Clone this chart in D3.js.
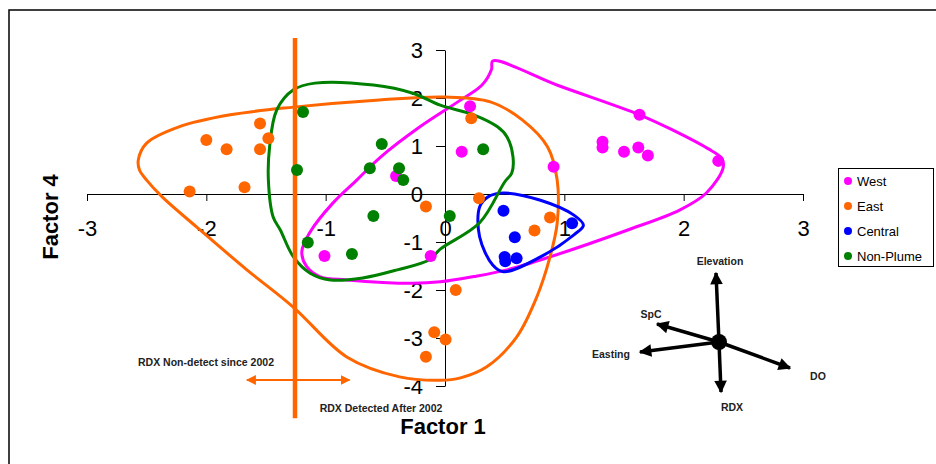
<!DOCTYPE html>
<html>
<head>
<meta charset="utf-8">
<script src="https://cdn.jsdelivr.net/npm/d3@7"></script>
<style>
  body { margin: 0; background: #fff; }
  svg { display: block; font-family: Arial, "Liberation Sans", sans-serif; }
</style>
</head>
<body>
<div id="chart"></div>
<script>
// Factor scores by region (Factor 1, Factor 4)
const west = [
  [-0.41, 0.375], [0.21, 1.83], [0.14, 0.88], [0.91, 0.57], [1.32, 1.09],
  [1.32, 0.97], [1.50, 0.88], [1.62, 0.97], [1.70, 0.80], [1.63, 1.65],
  [2.29, 0.69], [-1.01, -1.29], [-0.12, -1.29]
];
const east = [
  [-2.00, 1.125], [-1.83, 0.93], [-1.55, 1.47], [-1.48, 1.16], [-1.55, 0.93],
  [-2.14, 0.05], [-1.68, 0.14], [-0.16, -0.26], [0.22, 1.58], [0.285, -0.09],
  [0.88, -0.49], [0.75, -0.76], [0.09, -2.0], [0.005, -3.03], [-0.09, -2.88],
  [-0.16, -3.39]
];
const central = [
  [0.49, -0.35], [0.585, -0.90], [0.50, -1.31], [0.505, -1.40], [0.60, -1.34],
  [1.065, -0.61]
];
const nonPlume = [
  [-1.19, 1.71], [-1.24, 0.5], [-0.53, 1.04], [-0.63, 0.535], [-0.385, 0.535],
  [-0.35, 0.29], [-0.60, -0.46], [0.04, -0.46], [0.32, 0.93], [-1.15, -1.01],
  [-0.78, -1.25]
];

// hand drawn outlines around each group (data units)
const westHull = [
  [0.40, 2.77], [0.96, 2.25], [1.63, 1.65], [1.91, 1.33], [2.20, 0.95],
  [2.32, 0.74], [2.33, 0.54], [2.19, 0.02], [1.97, -0.33], [1.52, -0.76],
  [0.88, -1.31], [0.52, -1.58], [0.24, -1.72], [-0.04, -1.83], [-0.27, -1.86],
  [-0.82, -1.79], [-1.05, -1.72], [-1.16, -1.51], [-1.20, -1.20], [-1.13, -0.79],
  [-0.94, -0.19], [-0.74, 0.29], [-0.54, 0.77], [-0.21, 1.40], [0.12, 1.94],
  [0.31, 2.27], [0.39, 2.60]
];
const eastHull = [
  [-2.57, 0.71], [-2.50, 1.06], [-2.23, 1.40], [-1.80, 1.65], [-1.27, 1.81],
  [-0.55, 1.96], [0.0, 2.02], [0.38, 1.92], [0.65, 1.54], [0.86, 0.98],
  [0.94, 0.29], [0.94, -0.61], [0.88, -1.31], [0.77, -2.14], [0.60, -2.98],
  [0.35, -3.60], [0.13, -3.83], [-0.04, -3.88], [-0.38, -3.81], [-0.82, -3.40],
  [-1.27, -2.36], [-1.66, -1.58], [-2.08, -0.69], [-2.37, -0.06], [-2.50, 0.29],
  [-2.56, 0.50]
];
const centralHull = [
  [0.49, 0.02], [0.80, -0.13], [1.08, -0.44], [1.16, -0.65], [1.08, -0.85],
  [0.80, -1.31], [0.49, -1.62], [0.40, -1.48], [0.29, -0.89], [0.29, -0.27],
  [0.36, -0.06]
];
const nonPlumeHull = [
  [-1.09, 2.31], [-0.60, 2.27], [-0.27, 2.10], [-0.04, 1.85], [0.24, 1.65],
  [0.44, 1.40], [0.52, 1.19], [0.57, 0.77], [0.56, 0.44], [0.50, 0.25],
  [0.29, -0.60], [-0.04, -1.15], [-0.13, -1.37], [-0.40, -1.58], [-0.69, -1.75],
  [-0.96, -1.79], [-1.13, -1.65], [-1.27, -1.31], [-1.38, -0.75], [-1.44, -0.48],
  [-1.48, 0.29], [-1.47, 0.98], [-1.41, 1.75], [-1.27, 2.17]
];

// detection boundary and biplot loadings
const detectX = -1.257;
const detectY = [3.25, -4.67];
const detectArrow = [-1.66, -0.80];
const detectArrowY = -3.875;
const biplotCenter = [2.296, -3.083];
const loadings = [
  { name: "Elevation", end: [2.271, -1.646] },
  { name: "SpC", end: [1.777, -2.708] },
  { name: "Easting", end: [1.634, -3.292] },
  { name: "DO", end: [2.891, -3.625] },
  { name: "RDX", end: [2.313, -4.125] }
];

const xTicks = [-3, -2, -1, 0, 1, 2, 3];
const yTicks = [-4, -3, -2, -1, 0, 1, 2, 3];

const series = [
  { name: "West", pts: west, hull: westHull, color: "#FF00FF" },
  { name: "East", pts: east, hull: eastHull, color: "#FF6600" },
  { name: "Central", pts: central, hull: centralHull, color: "#0000FF" },
  { name: "Non-Plume", pts: nonPlume, hull: nonPlumeHull, color: "#008000" }
];

const width = 936, height = 464;
const svg = d3.select("#chart").append("svg")
  .attr("width", width)
  .attr("height", height);

const x = d3.scaleLinear().domain([-3, 3]).range([87, 803]);
const y = d3.scaleLinear().domain([-4, 3]).range([386, 50]);

// outer frame
svg.append("rect")
  .attr("x", 9).attr("y", 10)
  .attr("width", width + 20).attr("height", height + 20)
  .attr("fill", "none").attr("stroke", "#000").attr("stroke-width", 1.5);

// axes through the origin
const xAxis = svg.append("g")
  .attr("transform", `translate(0,${y(0)})`)
  .call(d3.axisBottom(x).tickValues(xTicks).tickFormat(d3.format("d"))
    .tickSize(7).tickPadding(19).tickSizeOuter(0));
const yAxis = svg.append("g")
  .attr("transform", `translate(${x(0)},0)`)
  .call(d3.axisLeft(y).tickValues(yTicks).tickFormat(d3.format("d"))
    .tickSize(9).tickPadding(13).tickSizeOuter(0));
[xAxis, yAxis].forEach(g => {
  g.select(".domain").attr("stroke", "#000");
  g.selectAll("line").attr("stroke", "#000");
  g.selectAll("text").attr("font-size", 22).attr("fill", "#000")
    .attr("font-family", "Arial, 'Liberation Sans', sans-serif")
    .text(d => d < 0 ? "-" + Math.abs(d) : d);
});

// axis titles
svg.append("text")
  .attr("x", 443).attr("y", 434)
  .attr("text-anchor", "middle")
  .attr("font-size", 22).attr("font-weight", "bold")
  .text("Factor 1");
svg.append("text")
  .attr("transform", "translate(58,217) rotate(-90)")
  .attr("text-anchor", "middle")
  .attr("font-size", 22).attr("font-weight", "bold")
  .text("Factor 4");

// group outlines
const hullLine = d3.line()
  .x(d => x(d[0])).y(d => y(d[1]))
  .curve(d3.curveCatmullRomClosed.alpha(0.5));
svg.append("g").selectAll("path")
  .data(series)
  .join("path")
  .attr("d", d => hullLine(d.hull))
  .attr("fill", "none")
  .attr("stroke", d => d.color)
  .attr("stroke-width", 3);

// RDX detection boundary
svg.append("line")
  .attr("x1", x(detectX)).attr("x2", x(detectX))
  .attr("y1", y(detectY[0])).attr("y2", y(detectY[1]))
  .attr("stroke", "#FF6600").attr("stroke-width", 4.5);

const defs = svg.append("defs");
defs.append("marker")
  .attr("id", "orangeHead")
  .attr("viewBox", "0 0 10 10")
  .attr("refX", 9).attr("refY", 5)
  .attr("markerWidth", 5).attr("markerHeight", 5)
  .attr("markerUnits", "strokeWidth")
  .attr("orient", "auto-start-reverse")
  .append("path").attr("d", "M0,0 L10,5 L0,10 Z").attr("fill", "#FF6600");
defs.append("marker")
  .attr("id", "blackHead")
  .attr("viewBox", "0 0 10 10")
  .attr("refX", 9).attr("refY", 5)
  .attr("markerWidth", 4).attr("markerHeight", 3.6)
  .attr("markerUnits", "strokeWidth")
  .attr("orient", "auto")
  .append("path").attr("d", "M0,0 L10,5 L0,10 Z").attr("fill", "#000");

svg.append("line")
  .attr("x1", x(detectArrow[0])).attr("x2", x(detectArrow[1]))
  .attr("y1", y(detectArrowY)).attr("y2", y(detectArrowY))
  .attr("stroke", "#FF6600").attr("stroke-width", 2)
  .attr("marker-start", "url(#orangeHead)")
  .attr("marker-end", "url(#orangeHead)");

svg.append("text")
  .attr("x", 206).attr("y", 366)
  .attr("text-anchor", "middle")
  .attr("font-size", 10.5).attr("font-weight", "bold").attr("fill", "#222")
  .text("RDX Non-detect since 2002");
svg.append("text")
  .attr("x", 381).attr("y", 412)
  .attr("text-anchor", "middle")
  .attr("font-size", 10.5).attr("font-weight", "bold").attr("fill", "#222")
  .text("RDX Detected After 2002");

// points
series.forEach(s => {
  svg.append("g").selectAll("circle")
    .data(s.pts)
    .join("circle")
    .attr("cx", d => x(d[0]))
    .attr("cy", d => y(d[1]))
    .attr("r", 6)
    .attr("fill", s.color);
});

// biplot of loadings
const bp = svg.append("g");
bp.selectAll("line")
  .data(loadings)
  .join("line")
  .attr("x1", x(biplotCenter[0])).attr("y1", y(biplotCenter[1]))
  .attr("x2", d => x(d.end[0])).attr("y2", d => y(d.end[1]))
  .attr("stroke", "#000").attr("stroke-width", 3.5)
  .attr("marker-end", "url(#blackHead)");
bp.append("circle")
  .attr("cx", x(biplotCenter[0])).attr("cy", y(biplotCenter[1]))
  .attr("r", 8).attr("fill", "#000");

const labelOffset = {
  "Elevation": [4, -12], "SpC": [-6, -10], "Easting": [-29, 2],
  "DO": [28, 8], "RDX": [11, 15]
};
bp.selectAll("text")
  .data(loadings)
  .join("text")
  .attr("x", d => x(d.end[0]) + labelOffset[d.name][0])
  .attr("y", d => y(d.end[1]) + labelOffset[d.name][1])
  .attr("dy", "0.35em")
  .attr("text-anchor", "middle")
  .attr("font-size", 10.5).attr("font-weight", "bold").attr("fill", "#222")
  .text(d => d.name);

// legend
const legend = svg.append("g");
legend.append("rect")
  .attr("x", 838.5).attr("y", 168.5)
  .attr("width", 95).attr("height", 98)
  .attr("fill", "#fff").attr("stroke", "#000").attr("stroke-width", 1);
const item = legend.selectAll("g.item")
  .data(series)
  .join("g")
  .attr("class", "item")
  .attr("transform", (d, i) => `translate(848,${181 + i * 25})`);
item.append("circle").attr("r", 4).attr("fill", d => d.color);
item.append("text")
  .attr("x", 9).attr("dy", "0.35em")
  .attr("font-size", 13)
  .text(d => d.name);
</script>
</body>
</html>
